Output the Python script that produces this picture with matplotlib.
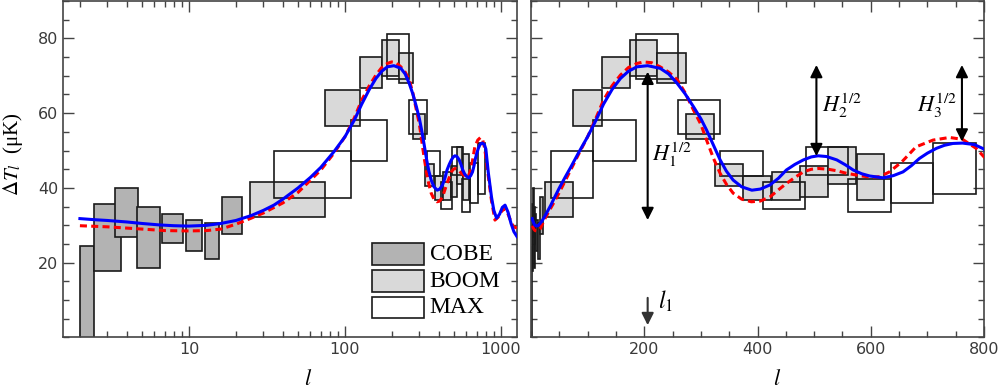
import matplotlib
matplotlib.use('Agg')
import matplotlib.pyplot as plt
from matplotlib.patches import Rectangle
from matplotlib.ticker import MultipleLocator, FixedLocator, LogLocator, NullFormatter

plt.rcParams['mathtext.fontset'] = 'stix'

# ---- data ----
cobe_lo = [2.0, 2.47, 3.36, 4.65, 6.72, 9.62, 12.6, 16.4]
cobe_hi = [2.47, 3.67, 4.73, 6.55, 9.19, 12.1, 15.6, 22.0]
cobe_top = [24.5, 35.6, 39.9, 35.0, 32.9, 31.5, 30.7, 37.6]
cobe_bot = [-5.0, 17.8, 26.8, 18.5, 25.3, 23.2, 20.9, 27.6]

boom_lo = [24.7, 75, 125, 174, 223, 274, 325, 375, 425, 475, 525, 575]
boom_hi = [75, 125, 174, 223, 273, 324, 374, 424, 475, 524, 574, 624]
boom_top = [41.5, 66.1, 75.0, 79.7, 76.0, 59.8, 46.5, 43.3, 44.3, 46.0, 50.9, 49.1]
boom_bot = [32.3, 56.5, 66.7, 70.0, 68.2, 53.2, 40.4, 36.7, 36.8, 37.6, 41.1, 36.9]

max_lo = [35, 110, 185, 259, 334, 410, 485, 560, 635, 710]
max_hi = [110, 185, 259, 334, 409, 484, 559, 635, 710, 785]
max_top = [49.9, 58.1, 81.1, 63.5, 49.9, 41.5, 50.9, 42.3, 46.6, 51.9]
max_bot = [37.2, 47.2, 69.2, 54.3, 43.2, 34.3, 43.4, 33.5, 36.1, 38.3]

blue_l = [2, 2.5, 3, 4, 5, 6.5, 8, 10, 13, 16, 20, 25, 30, 35, 40, 50, 60, 70, 85,
          100, 115, 128, 143, 158, 172, 187, 206, 228, 243, 258, 272, 287, 300, 310,
          322, 334, 345, 357, 372, 390, 405, 422, 437, 451, 466, 481, 495, 507, 522,
          540, 555, 569, 584, 598, 622, 640, 657, 672, 686, 700, 716, 730, 745, 762,
          783, 800, 830, 870, 900, 937, 980, 1020, 1062, 1110, 1160, 1210, 1266]
blue_t = [31.8, 31.5, 31.3, 30.9, 30.5, 30.1, 29.9, 29.8, 30.0, 30.5, 31.3, 32.6, 34.0,
          35.4, 37.0, 40.0, 42.8, 45.5, 49.7, 53.7, 58.2, 62.4, 66.3, 69.3, 71.2, 72.4,
          72.7, 72.0, 70.5, 68.0, 65.2, 61.7, 58.5, 55.5, 51.5, 47.5, 44.5, 42.1, 40.3,
          39.4, 39.7, 40.8, 42.6, 44.8, 46.3, 47.5, 48.3, 48.6, 48.4, 47.5, 46.2, 44.8,
          43.8, 43.2, 42.7, 43.3, 44.3, 46.0, 47.9, 49.3, 50.6, 51.4, 51.9, 52.0, 51.6,
          50.4, 44.0, 37.5, 34.0, 31.9, 33.0, 34.8, 35.4, 33.5, 30.5, 28.3, 27.0]

red_l = [2, 3, 5, 7, 10, 13, 16, 20, 25, 30, 40, 50, 70, 85, 100, 115, 128, 143, 158,
         172, 187, 199, 213, 228, 243, 258, 272, 287, 300, 310, 322, 334, 345, 357, 372,
         389, 405, 422, 437, 451, 466, 481, 495, 508, 525, 540, 555, 569, 584, 600, 616,
         633, 655, 680, 710, 739, 762, 786, 800, 830, 870, 915, 960, 1010, 1062, 1110,
         1160, 1200, 1266]
red_t = [29.9, 29.6, 29.0, 28.6, 28.5, 28.6, 29.0, 30.3, 31.9, 33.3, 36.0, 38.8, 44.8,
         49.3, 53.7, 58.8, 63.5, 67.3, 70.2, 72.2, 73.3, 73.7, 73.5, 72.4, 71.0, 69.0,
         65.5, 60.8, 57.0, 52.8, 48.0, 43.9, 41.0, 38.6, 37.0, 36.3, 36.5, 37.6, 39.5,
         41.2, 42.8, 44.3, 45.0, 45.2, 45.0, 44.6, 44.0, 43.6, 43.2, 42.9, 43.0, 44.3,
         47.0, 51.0, 52.8, 53.5, 53.0, 50.6, 48.3, 43.0, 36.5, 31.4, 32.2, 33.8, 34.5,
         33.0, 31.0, 29.6, 29.3]

legend_names = ['COBE', 'BOOM', 'MAX']

# ---- style ----
C_COBE = '#b3b3b3'
C_BOOM = '#d9d9d9'
EDGE = '#1a1a1a'
SPINE = '#444444'
TICKC = '#3a3a3a'

fig = plt.figure(figsize=(10.04, 3.89), dpi=100)
ax1 = fig.add_axes([0.0627, 0.1324, 0.4522, 0.865])
ax2 = fig.add_axes([0.5289, 0.1324, 0.4512, 0.865])


def draw_boxes(ax, lo, hi, top, bot, face):
    for a, b, t, d in zip(lo, hi, top, bot):
        ax.add_patch(Rectangle((a, d), b - a, t - d, facecolor=face,
                               edgecolor=EDGE, lw=1.2, zorder=2,
                               fill=face is not None))


for ax in (ax1, ax2):
    draw_boxes(ax, cobe_lo, cobe_hi, cobe_top, cobe_bot, C_COBE)
    draw_boxes(ax, boom_lo, boom_hi, boom_top, boom_bot, C_BOOM)
    draw_boxes(ax, max_lo, max_hi, max_top, max_bot, None)
    ax.plot(red_l, red_t, color='#ff0000', lw=2.2, ls=(0, (2.3, 1.4)), zorder=4)
    ax.plot(blue_l, blue_t, color='#0000ff', lw=2.2, zorder=5)
    ax.set_ylim(0, 90)
    ax.yaxis.set_major_locator(FixedLocator([20, 40, 60, 80]))
    ax.yaxis.set_minor_locator(MultipleLocator(5))
    ax.tick_params(which='both', direction='in', top=True, right=True,
                   colors=SPINE, labelcolor=TICKC, labelsize=11.5, width=1.0)
    ax.tick_params(which='major', length=8)
    ax.tick_params(which='minor', length=4.5)
    for s in ax.spines.values():
        s.set_color(SPINE)
        s.set_linewidth(1.2)

# left panel: log scale
ax1.set_xscale('log')
ax1.set_xlim(1.557, 1266)
ax1.xaxis.set_major_locator(FixedLocator([10, 100, 1000]))
ax1.xaxis.set_major_formatter(matplotlib.ticker.FixedFormatter(['10', '100', '1000']))
ax1.xaxis.set_minor_locator(LogLocator(base=10, subs=range(2, 10), numticks=20))
ax1.xaxis.set_minor_formatter(NullFormatter())
ax1.set_ylabel(r'$\Delta T_l$  (μK)', family='Liberation Serif', fontsize=15)
ax1.yaxis.set_label_coords(-0.083, 0.545)
ax1.set_xlabel(r'$l$', fontsize=16)
ax1.xaxis.set_label_coords(0.54, -0.093)

# legend drawn as boxes + text
leg_tr = ax1.get_yaxis_transform()
leg_rows = [(19.4, 25.2), (12.2, 18.0), (5.1, 10.9)]
for name, face, (y0, y1) in zip(legend_names, [C_COBE, C_BOOM, None], leg_rows):
    ax1.add_patch(Rectangle((0.680, y0), 0.115, y1 - y0, transform=leg_tr,
                            facecolor=face if face else 'white', edgecolor=EDGE,
                            lw=1.2, zorder=6))
    ax1.text(0.808, (y0 + y1) / 2, name, transform=leg_tr, va='center', ha='left',
             family='Liberation Serif', fontsize=17, zorder=6)

# right panel: linear scale
ax2.set_xlim(0, 800)
ax2.xaxis.set_major_locator(FixedLocator([200, 400, 600, 800]))
ax2.xaxis.set_minor_locator(MultipleLocator(50))
ax2.tick_params(axis='y', labelleft=False)
ax2.set_xlabel(r'$l$', fontsize=16)
ax2.xaxis.set_label_coords(0.543, -0.093)

arrow_kw = dict(arrowstyle='<|-|>', lw=1.5, color='k', mutation_scale=18,
                shrinkA=0, shrinkB=0)
ax2.annotate('', xy=(206, 71.1), xytext=(206, 31.4), arrowprops=arrow_kw, zorder=7)
ax2.annotate('', xy=(504, 72.9), xytext=(504, 48.5), arrowprops=arrow_kw, zorder=7)
ax2.annotate('', xy=(761, 72.9), xytext=(761, 52.4), arrowprops=arrow_kw, zorder=7)
ax2.text(249, 48.8, r'$H_1^{1/2}$', ha='center', va='center', fontsize=16)
ax2.text(549, 61.9, r'$H_2^{1/2}$', ha='center', va='center', fontsize=16)
ax2.text(717, 61.9, r'$H_3^{1/2}$', ha='center', va='center', fontsize=16)

ax2.annotate('', xy=(206, 3.3), xytext=(206, 10.6),
             arrowprops=dict(arrowstyle='-|>', lw=1.5, color='#333333',
                             mutation_scale=18, shrinkA=0, shrinkB=0))
ax2.text(224, 9.8, r'$l_1$', ha='left', va='center', fontsize=17)

fig.savefig('out.png', dpi=100)
